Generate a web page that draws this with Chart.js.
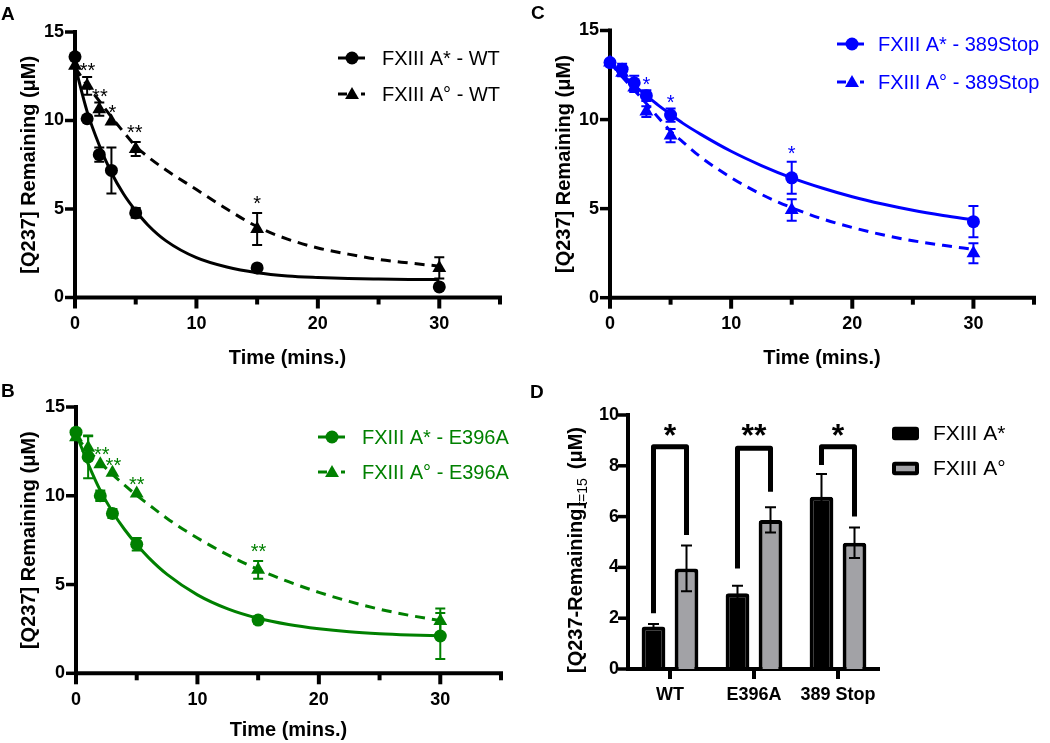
<!DOCTYPE html>
<html><head><meta charset="utf-8">
<script src="https://cdn.jsdelivr.net/npm/chart.js@4.4.1/dist/chart.umd.min.js"></script>
<style>
body{margin:0;background:#fff;}
#wrap{position:relative;width:1050px;height:743px;overflow:hidden;background:#fff;}
canvas{position:absolute;}
.pl{position:absolute;font:bold 19px "Liberation Sans",Arial,sans-serif;line-height:19px;color:#000;}
</style></head><body>
<div id="wrap">
<canvas id="cA" width="520" height="370" style="left:0;top:0"></canvas>
<canvas id="cB" width="520" height="373" style="left:0;top:370px"></canvas>
<canvas id="cC" width="515" height="370" style="left:535px;top:0"></canvas>
<canvas id="cD" width="515" height="373" style="left:535px;top:370px"></canvas>
<div class="pl" style="left:1px;top:4px">A</div>
<div class="pl" style="left:1px;top:381px">B</div>
<div class="pl" style="left:531px;top:3px">C</div>
<div class="pl" style="left:530px;top:382px">D</div>
</div>
<script>
// ---------------- DATA ----------------
const times = [0, 1, 2, 3, 5, 15, 30];
const fitTimes = [0, 1, 2, 3, 4, 5, 6, 7.5, 10, 12.5, 15, 17.5, 20, 22.5, 25, 27.5, 30];

// Panel A - WT
const wtStar    = [13.6, 10.1, 8.07, 7.18, 4.78, 1.67, 0.6];
const wtStarErr = [0, 0, 0.4, 1.3, 0.28, 0, 0];
const wtDeg     = [13.1, 11.96, 10.64, 9.94, 8.39, 3.87, 1.67];
const wtDegErr  = [0, 0.5, 0.37, 0, 0.4, 0.9, 0.6];
const wtFitStar = [13.1, 10.5, 8.6, 7.05, 5.85, 4.9, 4.1, 3.2, 2.25, 1.72, 1.4, 1.22, 1.13, 1.07, 1.04, 1.02, 1.01];
const wtFitDeg  = [13.0, 12.0, 11.1, 10.2, 9.35, 8.55, 7.95, 7.2, 6.1, 5.0, 4.0, 3.3, 2.8, 2.45, 2.15, 1.95, 1.77];
const wtSigX = [1.03, 2.05, 3.07, 4.93, 15.0];
const wtSigY = [13.1, 11.6, 10.7, 9.55, 5.57];
const wtSigT = ['**', '**', '*', '**', '*'];

// Panel B - E396A
const eStar    = [13.58, 12.19, 10.0, 9.0, 7.27, 3.0, 2.1];
const eStarErr = [0, 1.2, 0.3, 0.25, 0.35, 0.2, 1.3];
const eDeg     = [13.3, 12.7, 11.77, 11.3, 10.13, 5.83, 2.95];
const eDegErr  = [0, 0.65, 0, 0, 0, 0.5, 0.7];
const eFitStar = [13.5, 11.8, 10.3, 9.1, 8.1, 7.25, 6.5, 5.57, 4.42, 3.63, 3.1, 2.75, 2.51, 2.34, 2.23, 2.16, 2.11];
const eFitDeg  = [13.3, 12.56, 11.87, 11.21, 10.6, 10.02, 9.5, 8.72, 7.62, 6.67, 5.85, 5.16, 4.56, 4.05, 3.61, 3.26, 2.97];
const eSigX = [2.12, 3.08, 5.0, 15.03];
const eSigY = [12.57, 11.96, 10.9, 7.12];
const eSigT = ['**', '**', '**', '**'];

// Panel C - 389Stop
const sStar    = [13.2, 12.83, 12.06, 11.34, 10.25, 6.73, 4.27];
const sStarErr = [0, 0.3, 0.4, 0.3, 0.37, 0.9, 0.88];
const sDeg     = [13.2, 12.63, 11.8, 10.45, 9.1, 4.92, 2.49];
const sDegErr  = [0, 0.2, 0.25, 0.3, 0.37, 0.6, 0.56];
const sFitStar = [13.2, 12.54, 11.92, 11.35, 10.8, 10.3, 9.8, 9.17, 8.22, 7.42, 6.73, 6.16, 5.67, 5.26, 4.91, 4.62, 4.37];
const sFitDeg  = [13.2, 12.4, 11.65, 10.9, 10.1, 9.35, 8.75, 7.89, 6.74, 5.8, 5.05, 4.43, 3.94, 3.53, 3.2, 2.94, 2.72];
const sSigX = [3.0, 5.0, 15.0];
const sSigY = [12.2, 11.19, 8.33];
const sSigT = ['*', '*', '*'];

// Panel D - [Q237-Remaining] at t=15
const barCats   = ['WT', 'E396A', '389 Stop'];
const t15Star    = [1.67, 2.98, 6.78];
const t15StarErr = [0.1, 0.3, 0.9];
const t15Deg     = [3.96, 5.87, 4.97];
const t15DegErr  = [0.9, 0.5, 0.6];
const brLeftBottom  = [2.19, 3.96, 8.03];
const brTop         = [8.75, 8.69, 8.75];
const brRightBottom = [5.28, 6.98, 6.0];
const brSig  = ['*', '**', '*'];
const brSigY = [9.5, 9.5, 9.5];

const xTickVals = [0, 5, 10, 15, 20, 25, 30, 35];
const yTickVals = [0, 5, 10, 15];
const dTickVals = [0, 2, 4, 6, 8, 10];

// ---------------- RENDER ----------------
const FAM = '"Liberation Sans", Arial, Helvetica, sans-serif';
Chart.defaults.font.family = FAM;
Chart.defaults.color = '#000';

function drawCircle(c, x, y, r) { c.beginPath(); c.arc(x, y, r, 0, Math.PI * 2); c.fill(); }
function drawTri(c, x, y, r) {
  c.beginPath();
  c.moveTo(x, y - r);
  c.lineTo(x + r * Math.sin(2 * Math.PI / 3), y - r * Math.cos(2 * Math.PI / 3));
  c.lineTo(x + r * Math.sin(4 * Math.PI / 3), y - r * Math.cos(4 * Math.PI / 3));
  c.closePath(); c.fill();
}

function kinetic(id, p) {
  const pts = ys => times.map((t, i) => ({x: t, y: ys[i]}));
  const fpts = ys => fitTimes.map((t, i) => ({x: t, y: ys[i]}));
  const decor = {
    id: 'decor' + id,
    beforeDatasetsDraw(chart) {
      const c = chart.ctx, xs = chart.scales.x, ys = chart.scales.y;
      const x0 = xs.getPixelForValue(0), xe = xs.getPixelForValue(35);
      const y0 = ys.getPixelForValue(0), yt = ys.getPixelForValue(15);
      c.save();
      c.strokeStyle = '#000'; c.lineCap = 'butt';
      c.lineWidth = 4;
      c.beginPath(); c.moveTo(x0, yt - 2); c.lineTo(x0, y0 + 2); c.stroke();
      c.beginPath(); c.moveTo(x0 - 2, y0); c.lineTo(xe + 2, y0); c.stroke();
      c.lineWidth = 3.5;
      yTickVals.forEach(v => { const py = ys.getPixelForValue(v); c.beginPath(); c.moveTo(x0 - 10, py); c.lineTo(x0, py); c.stroke(); });
      c.lineWidth = 4;
      xTickVals.forEach(v => {
        const px = xs.getPixelForValue(v);
        const L = (v % 10 === 0 && v <= 30) ? 11 : 7;
        c.beginPath(); c.moveTo(px, y0); c.lineTo(px, y0 + L); c.stroke();
      });
      c.restore();
    },
    afterDatasetsDraw(chart) {
      const c = chart.ctx, xs = chart.scales.x, ys = chart.scales.y;
      c.save();
      c.strokeStyle = p.color; c.fillStyle = p.color; c.lineWidth = 2;
      const eb = (vals, errs) => vals.forEach((v, i) => {
        if (!errs[i]) return;
        const px = xs.getPixelForValue(times[i]);
        const a = ys.getPixelForValue(v + errs[i]), b = ys.getPixelForValue(v - errs[i]);
        c.beginPath(); c.moveTo(px, a); c.lineTo(px, b);
        c.moveTo(px - 5, a); c.lineTo(px + 5, a);
        c.moveTo(px - 5, b); c.lineTo(px + 5, b); c.stroke();
      });
      eb(p.star, p.starErr); eb(p.deg, p.degErr);
      // significance
      c.font = '20px ' + FAM; c.textAlign = 'center'; c.textBaseline = 'alphabetic';
      p.sigX.forEach((sx, i) => c.fillText(p.sigT[i], xs.getPixelForValue(sx), ys.getPixelForValue(p.sigY[i]) + 11));
      // legend
      const L = p.legend;
      c.lineWidth = 3;
      c.beginPath(); c.moveTo(L.x1, L.y1); c.lineTo(L.x1 + 27, L.y1); c.stroke();
      drawCircle(c, L.mx, L.y1, 6.5);
      c.beginPath(); c.moveTo(L.x1, L.y2); c.lineTo(L.x1 + 9, L.y2); c.stroke();
      c.beginPath(); c.moveTo(L.x1 + 23, L.y2); c.lineTo(L.x1 + 27, L.y2); c.stroke();
      drawTri(c, L.mx, L.y2 + 1, 8);
      c.font = '20px ' + FAM; c.textAlign = 'left'; c.textBaseline = 'middle';
      c.fillText(p.labels[0], L.tx, L.y1 + 1);
      c.fillText(p.labels[1], L.tx, L.y2 + 1);
      c.restore();
    }
  };
  return new Chart(document.getElementById(id), {
    type: 'scatter',
    data: {datasets: [
      {label: p.labels[0], data: pts(p.star), pointStyle: 'circle', pointRadius: 6.5, backgroundColor: p.color, borderColor: p.color, borderWidth: 0, showLine: false, clip: false},
      {label: p.labels[1], data: pts(p.deg), pointStyle: 'triangle', pointRadius: 8, backgroundColor: p.color, borderColor: p.color, borderWidth: 0, showLine: false, clip: false},
      {label: 'fit*', data: fpts(p.fitStar), showLine: true, pointRadius: 0, borderColor: p.color, borderWidth: 3, cubicInterpolationMode: 'monotone', fill: false, clip: false},
      {label: 'fit°', data: fpts(p.fitDeg), showLine: true, pointRadius: 0, borderColor: p.color, borderWidth: 3, borderDash: [10, 7], cubicInterpolationMode: 'monotone', fill: false, clip: false}
    ]},
    options: {
      responsive: false, animation: false, events: [],
      layout: {padding: {top: p.padTop, right: p.padRight, left: 0, bottom: 0}},
      plugins: {legend: {display: false}, tooltip: {enabled: false}},
      scales: {
        x: {type: 'linear', min: 0, max: 35,
          grid: {display: false, drawTicks: false, tickLength: 0}, border: {display: false},
          ticks: {stepSize: 5, autoSkip: false, maxRotation: 0, padding: 16, color: '#000',
            font: {size: 18, weight: 'bold'},
            callback: v => (v % 10 === 0 && v <= 30) ? String(v) : ''},
          title: {display: true, text: 'Time (mins.)', color: '#000', font: {size: 20, weight: 'bold'}, padding: {top: 0, bottom: p.xTitlePad}},
          afterFit: s => { s.height = p.xH; }
        },
        y: {type: 'linear', min: 0, max: 15,
          grid: {display: false, drawTicks: false, tickLength: 0}, border: {display: false},
          ticks: {stepSize: 5, padding: 11, color: '#000', font: {size: 18, weight: 'bold'}},
          title: {display: true, text: '[Q237] Remaining (\u03BCM)', color: '#000', font: {size: 20, weight: 'bold'}, padding: {top: 17, bottom: 0}},
          afterFit: s => { s.width = p.yW; }
        }
      }
    },
    plugins: [decor]
  });
}

kinetic('cA', {color: '#000000', star: wtStar, starErr: wtStarErr, deg: wtDeg, degErr: wtDegErr,
  fitStar: wtFitStar, fitDeg: wtFitDeg, sigX: wtSigX, sigY: wtSigY, sigT: wtSigT,
  labels: ['FXIII A* - WT', 'FXIII A\u00B0 - WT'],
  legend: {x1: 338, mx: 352, tx: 382, y1: 58, y2: 94},
  padTop: 32, padRight: 20, xH: 72.5, yW: 75, xTitlePad: 0});

kinetic('cB', {color: '#008000', star: eStar, starErr: eStarErr, deg: eDeg, degErr: eDegErr,
  fitStar: eFitStar, fitDeg: eFitDeg, sigX: eSigX, sigY: eSigY, sigT: eSigT,
  labels: ['FXIII A* - E396A', 'FXIII A\u00B0 - E396A'],
  legend: {x1: 318, mx: 332, tx: 362, y1: 67, y2: 102},
  padTop: 37, padRight: 19, xH: 69.7, yW: 76, xTitlePad: 1});

kinetic('cC', {color: '#0000ff', star: sStar, starErr: sStarErr, deg: sDeg, degErr: sDegErr,
  fitStar: sFitStar, fitDeg: sFitDeg, sigX: sSigX, sigY: sSigY, sigT: sSigT,
  labels: ['FXIII A* - 389Stop', 'FXIII A\u00B0 - 389Stop'],
  legend: {x1: 302, mx: 317, tx: 343, y1: 44, y2: 82},
  padTop: 30.5, padRight: 15, xH: 72.3, yW: 75, xTitlePad: 0});

// Panel D
const GRAY = '#a2a2a6';
const decorD = {
  id: 'decorD',
  beforeDatasetsDraw(chart) {
    const c = chart.ctx, xs = chart.scales.x, ys = chart.scales.y, a = chart.chartArea;
    const y0 = ys.getPixelForValue(0), yt = ys.getPixelForValue(10);
    c.save(); c.strokeStyle = '#000';
    c.lineWidth = 4;
    c.beginPath(); c.moveTo(a.left, yt - 2); c.lineTo(a.left, y0 + 2); c.stroke();
    c.beginPath(); c.moveTo(a.left - 2, y0); c.lineTo(a.right, y0); c.stroke();
    c.lineWidth = 3.5;
    dTickVals.forEach(v => { const py = ys.getPixelForValue(v); c.beginPath(); c.moveTo(a.left - 10, py); c.lineTo(a.left, py); c.stroke(); });
    c.lineWidth = 4;
    barCats.forEach((_, i) => { const px = xs.getPixelForValue(i); c.beginPath(); c.moveTo(px, y0); c.lineTo(px, y0 + 10); c.stroke(); });
    c.restore();
  },
  afterDatasetsDraw(chart) {
    const c = chart.ctx, ys = chart.scales.y, xs = chart.scales.x;
    const m0 = chart.getDatasetMeta(0).data, m1 = chart.getDatasetMeta(1).data;
    c.save();
    c.strokeStyle = '#000'; c.fillStyle = '#000'; c.lineWidth = 2;
    const eb = (meta, vals, errs) => vals.forEach((v, i) => {
      const px = meta[i].x;
      const a = ys.getPixelForValue(v + errs[i]), b = ys.getPixelForValue(v - errs[i]);
      c.beginPath(); c.moveTo(px, a); c.lineTo(px, b);
      c.moveTo(px - 5.5, a); c.lineTo(px + 5.5, a);
      c.moveTo(px - 5.5, b); c.lineTo(px + 5.5, b); c.stroke();
    });
    eb(m0, t15Star, t15StarErr); eb(m1, t15Deg, t15DegErr);
    // brackets
    c.lineWidth = 5; c.lineJoin = 'round'; c.lineCap = 'butt';
    barCats.forEach((_, i) => {
      const xl = m0[i].x, xr = m1[i].x;
      c.beginPath();
      c.moveTo(xl, ys.getPixelForValue(brLeftBottom[i]));
      c.lineTo(xl, ys.getPixelForValue(brTop[i]));
      c.lineTo(xr, ys.getPixelForValue(brTop[i]));
      c.lineTo(xr, ys.getPixelForValue(brRightBottom[i]));
      c.stroke();
      c.font = 'bold 32px ' + FAM; c.textAlign = 'center'; c.textBaseline = 'alphabetic';
      c.fillText(brSig[i], xs.getPixelForValue(i), ys.getPixelForValue(brSigY[i]) + 18);
    });
    // legend
    const lx = 357, lw = 27, lh = 13.5, ly1 = 63.5, ly2 = 98.5;
    c.beginPath(); c.roundRect(lx, ly1 - lh / 2, lw, lh, 3); c.fillStyle = '#000'; c.fill();
    c.beginPath(); c.roundRect(lx, ly2 - lh / 2, lw, lh, 3); c.fill();
    c.fillStyle = GRAY; c.fillRect(lx + 4, ly2 - lh / 2 + 4, lw - 8, lh - 8);
    c.fillStyle = '#000'; c.font = '21px ' + FAM; c.textAlign = 'left'; c.textBaseline = 'middle';
    c.fillText(chart.data.datasets[0].label, 398, ly1 + 1);
    c.fillText(chart.data.datasets[1].label, 398, ly2 + 1);
    // y title with subscript
    c.translate(41, 303); c.rotate(-Math.PI / 2);
    c.font = 'bold 20px ' + FAM; c.textBaseline = 'middle'; c.textAlign = 'left';
    const t1 = '[Q237-Remaining]';
    c.fillText(t1, 0, 0);
    let w = c.measureText(t1).width;
    c.font = '14px ' + FAM;
    c.fillText('t=15', w - 4, 7);
    w += c.measureText('t=15').width - 4 + 9;
    c.font = 'bold 20px ' + FAM;
    c.fillText('(\u03BCM)', w, 0);
    c.restore();
  }
};

new Chart(document.getElementById('cD'), {
  type: 'bar',
  data: {labels: barCats, datasets: [
    {label: 'FXIII A*', data: t15Star, backgroundColor: '#000', borderColor: '#000', borderWidth: 4, borderRadius: 3, borderSkipped: 'start'},
    {label: 'FXIII A\u00B0', data: t15Deg, backgroundColor: GRAY, borderColor: '#000', borderWidth: 4, borderRadius: 3, borderSkipped: 'start'}
  ]},
  options: {
    responsive: false, animation: false, events: [],
    layout: {padding: {top: 45, right: 170, left: 0, bottom: 0}},
    datasets: {bar: {categoryPercentage: 0.786, barPercentage: 0.72}},
    plugins: {legend: {display: false}, tooltip: {enabled: false}},
    scales: {
      x: {grid: {display: false, drawTicks: false, tickLength: 0}, border: {display: false},
        ticks: {padding: 15, color: '#000', font: {size: 18, weight: 'bold'}},
        afterFit: s => { s.height = 74; }},
      y: {min: 0, max: 10, grid: {display: false, drawTicks: false, tickLength: 0}, border: {display: false},
        ticks: {stepSize: 2, padding: 9, color: '#000', font: {size: 18, weight: 'bold'}},
        afterFit: s => { s.width = 93; }}
    }
  },
  plugins: [decorD]
});
</script>
</body></html>
